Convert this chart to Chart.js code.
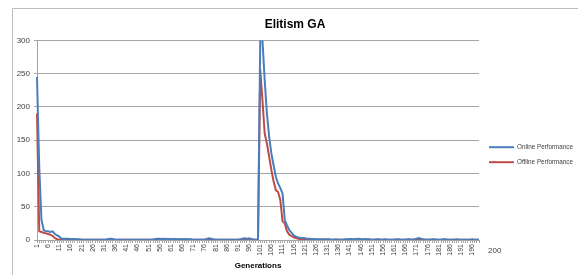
<!DOCTYPE html>
<html>
<head>
<meta charset="utf-8">
<script src="https://cdn.jsdelivr.net/npm/chart.js@4/dist/chart.umd.min.js"></script>
<style>
    html, body { margin: 0; padding: 0; background: #fff; }
    #box { width: 578px; height: 275px; }
</style>
</head>
<body>
<div id="box"><canvas id="Chart1"></canvas></div>
<script>
//代数 1..199
var generations = [];
for (var g = 1; g <= 199; g++) { generations.push(String(g)); }

//在线性能
var online = [
    245, 110, 30, 15, 13, 13, 12, 13, 9, 7,
    5, 2, 2, 2, 2, 1.5, 1.5, 1.5, 1, 1,
    0.5, 0.5, 0.5, 0.5, 0.5, 0.5, 0.5, 0.5, 0.5, 0.5,
    0.5, 0.5, 1.5, 2, 1.5, 0.5, 0.5, 0.5, 0.5, 0.5,
    0.5, 0.5, 0.5, 0.5, 0.5, 0.5, 0.5, 0.5, 0.5, 0.5,
    0.5, 0.5, 0.5, 1.5, 2, 2, 1.5, 2, 1.5, 1.5,
    1, 1.5, 1.5, 1, 1.5, 1, 1.5, 1, 1, 1,
    0.5, 0.5, 0.5, 0.5, 0.5, 0.5, 1.5, 2.5, 2, 1,
    0.5, 0.5, 0.5, 0.5, 0.5, 0.5, 0.5, 0.5, 0.5, 0.5,
    0.5, 1, 2, 2.5, 2, 2.5, 1.5, 0.5, 0.5, 0.5,
    300, 300, 240, 190, 155, 130, 112, 95, 85, 78,
    70, 30, 22, 15, 11, 7, 5, 4, 3, 3,
    2.5, 2, 2, 1.5, 1.5, 1, 1, 1, 1, 1,
    1, 1, 0.5, 0.5, 1, 0.5, 0.5, 0.5, 1, 1,
    1.5, 1.5, 1, 1.5, 2, 1.5, 1, 1.5, 1, 1,
    0.5, 0.5, 1, 1, 0.5, 0.5, 1, 0.5, 0.5, 0.5,
    0.5, 1, 1, 0.5, 0.5, 0.5, 1, 1, 0.5, 1,
    2, 3, 2, 1, 0.5, 0.5, 0.5, 1, 1, 0.5,
    0.5, 0.5, 1, 1, 0.5, 0.5, 0.5, 0.5, 1, 0.5,
    0.5, 0.5, 0.5, 0.5, 0.5, 1, 0.5, 0.5, 0.5
];

//离线性能
var offline = [
    190, 13, 12, 11, 10, 9, 8, 6, 3, 1,
    0.5, 0.5, 0.5, 0.5, 0.5, 0.5, 0.5, 0.5, 0.5, 0.5,
    0.5, 0.5, 0.5, 0.5, 0.5, 0.5, 0.5, 0.5, 0.5, 0.5,
    0.5, 0.5, 0.5, 0.5, 0.5, 0.5, 0.5, 0.5, 0.5, 0.5,
    0.5, 0.5, 0.5, 0.5, 0.5, 0.5, 0.5, 0.5, 0.5, 0.5,
    0.5, 0.5, 0.5, 0.5, 0.5, 0.5, 0.5, 0.5, 0.5, 0.5,
    0.5, 0.5, 0.5, 0.5, 0.5, 0.5, 0.5, 0.5, 0.5, 0.5,
    0.5, 0.5, 0.5, 0.5, 0.5, 0.5, 0.5, 0.5, 0.5, 0.5,
    0.5, 0.5, 0.5, 0.5, 0.5, 0.5, 0.5, 0.5, 0.5, 0.5,
    0.5, 0.5, 0.5, 0.5, 0.5, 0.5, 0.5, 0.5, 0.5, 0.5,
    256, 210, 160, 145, 125, 105, 88, 75, 72, 60,
    28, 25, 13, 8, 6, 4, 3, 2, 1.5, 1.5,
    1, 0.5, 0.5, 0.5, 0.5, 0.5, 0.5, 0.5, 0.5, 0.5,
    0.5, 0.5, 0.5, 0.5, 0.5, 0.5, 0.5, 0.5, 0.5, 0.5,
    0.5, 0.5, 0.5, 0.5, 0.5, 0.5, 0.5, 0.5, 0.5, 0.5,
    0.5, 0.5, 0.5, 0.5, 0.5, 0.5, 0.5, 0.5, 0.5, 0.5,
    0.5, 0.5, 0.5, 0.5, 0.5, 0.5, 0.5, 0.5, 0.5, 0.5,
    0.5, 0.5, 0.5, 0.5, 0.5, 0.5, 0.5, 0.5, 0.5, 0.5,
    0.5, 0.5, 0.5, 0.5, 0.5, 0.5, 0.5, 0.5, 0.5, 0.5,
    0.5, 0.5, 0.5, 0.5, 0.5, 0.5, 0.5, 0.5, 0.5
];

var yTicks = [0, 50, 100, 150, 200, 250, 300];
var seriesNames = ['Online Performance', 'Offline Performance'];

var font = '"Liberation Sans", sans-serif';
var gridColor = '#a6a6a6';

//外框、图例、右侧 "200"
var framePlugin = {
    id: 'frame',
    afterInit: function (chart) {
        var lg = chart.legend;
        if (!lg) return;
        //固定图例宽度
        var oldFit = lg.fit;
        lg.fit = function () {
            oldFit.call(this);
            if (!this.isHorizontal()) { this.width = 99; }
        };
        //图例自己画, 文字压窄一点
        lg.draw = function () {
            var c = this.ctx;
            var area = chart.chartArea;
            var x0 = this.left + 10;
            var y0 = (area.top + area.bottom) / 2 + 7;
            c.save();
            this.legendItems.forEach(function (it, i) {
                var y = y0 + i * 15;
                c.fillStyle = it.strokeStyle;
                c.fillRect(x0, y - 1, 25, 2);
                c.fillStyle = '#404040';
                c.font = '8px ' + font;
                c.textAlign = 'left';
                c.textBaseline = 'middle';
                c.fillText(it.text, x0 + 28, y, 56);
            });
            c.restore();
        };
    },
    beforeDraw: function (chart) {
        var ctx = chart.ctx;
        ctx.save();
        ctx.strokeStyle = '#bdbdbd';
        ctx.lineWidth = 1;
        ctx.beginPath();
        ctx.moveTo(12.5, 275);
        ctx.lineTo(12.5, 8.5);
        ctx.lineTo(578, 8.5);
        ctx.stroke();
        ctx.restore();
    },
    afterDraw: function (chart) {
        var ctx = chart.ctx;
        ctx.save();
        ctx.fillStyle = '#404040';
        ctx.font = '8px ' + font;
        ctx.textAlign = 'left';
        ctx.textBaseline = 'middle';
        ctx.fillText('200', 488, 251);
        ctx.restore();
    }
};

var ctx = document.getElementById("Chart1").getContext('2d');
var myChart = new Chart(ctx, {
    type: 'line',
    data: {
        labels: generations,
        datasets: [{
            label: seriesNames[0],
            data: online,
            borderColor: '#4a7ebb',
            backgroundColor: '#4a7ebb',
            borderWidth: 2,
            pointRadius: 0,
            tension: 0
        }, {
            label: seriesNames[1],
            data: offline,
            borderColor: '#be4b48',
            backgroundColor: '#be4b48',
            borderWidth: 2,
            pointRadius: 0,
            tension: 0
        }]
    },
    options: {
        responsive: true,
        maintainAspectRatio: false,
        animation: false,
        events: [],
        layout: { padding: { left: 12, top: 8, right: 0, bottom: 0 } },
        plugins: {
            title: {
                display: true,
                text: 'Elitism GA',
                color: '#000',
                font: { family: font, size: 12, weight: 'bold' },
                padding: { top: 9, bottom: 9 }
            },
            legend: {
                display: true,
                position: 'right',
                labels: {
                    boxWidth: 25,
                    boxHeight: 2,
                    padding: 7,
                    font: { family: font, size: 8 }
                }
            },
            tooltip: { enabled: false }
        },
        scales: {
            x: {
                type: 'category',
                offset: false,
                grid: {
                    drawOnChartArea: false,
                    drawTicks: true,
                    tickLength: 3,
                    color: gridColor
                },
                border: { display: true, color: gridColor },
                ticks: {
                    autoSkip: false,
                    maxRotation: 90,
                    minRotation: 90,
                    padding: 1,
                    color: '#404040',
                    font: { family: font, size: 7 },
                    callback: function (v, i) {
                        return i % 5 === 0 ? generations[i] : '';
                    }
                },
                title: {
                    display: true,
                    text: 'Generations',
                    color: '#000',
                    font: { family: font, size: 8, weight: 'bold' },
                    padding: { top: 0, bottom: 4 }
                },
                afterFit: function (scale) { scale.height = 35; }
            },
            y: {
                min: yTicks[0],
                max: yTicks[yTicks.length - 1],
                afterBuildTicks: function (scale) {
                    scale.ticks = yTicks.map(function (v) { return { value: v }; });
                },
                grid: {
                    color: gridColor,
                    tickLength: 3
                },
                border: { display: true, color: gridColor },
                ticks: {
                    padding: 4,
                    color: '#404040',
                    font: { family: font, size: 8 }
                },
                afterFit: function (scale) { scale.width = 25; }
            }
        }
    },
    plugins: [framePlugin]
});
</script>
</body>
</html>
